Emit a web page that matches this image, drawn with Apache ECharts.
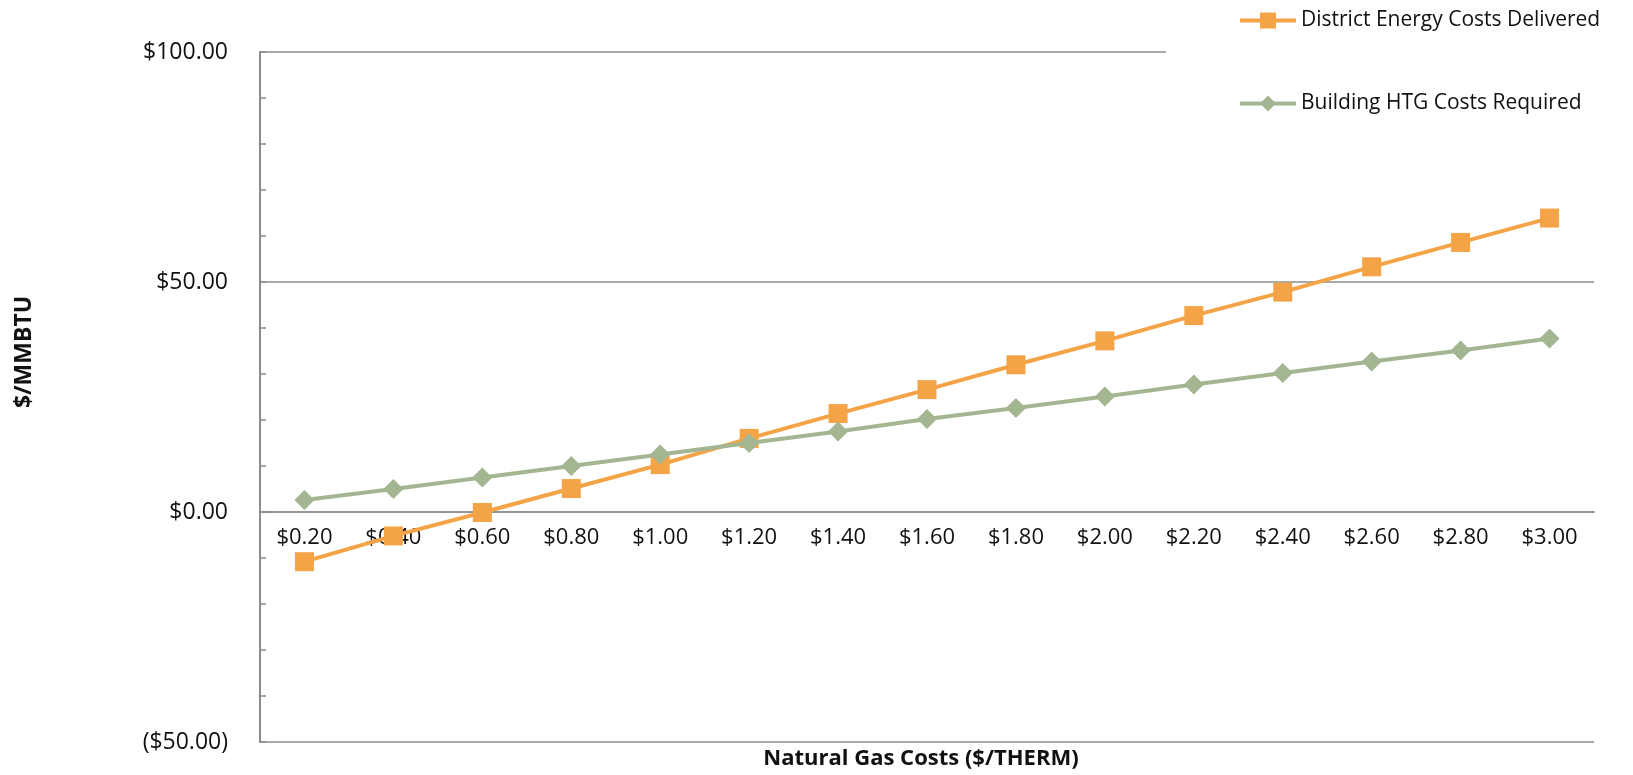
<!DOCTYPE html>
<html>
<head>
<meta charset="utf-8">
<title>District Energy vs Building Heating Costs</title>
<script src="https://cdn.jsdelivr.net/npm/echarts@6/dist/echarts.min.js"></script>
<style>
  html, body { margin: 0; padding: 0; background: #ffffff; }
  #chart { width: 1633px; height: 775px; }
</style>
</head>
<body>
<div id="chart"></div>
<script>
// Natural gas price points ($/therm)
const gasPrices = ['$0.20', '$0.40', '$0.60', '$0.80', '$1.00', '$1.20', '$1.40', '$1.60',
                   '$1.80', '$2.00', '$2.20', '$2.40', '$2.60', '$2.80', '$3.00'];

// Delivered district energy cost ($/MMBTU)
const districtEnergy = [-10.8, -5.2, -0.1, 5.1, 10.3, 16.0, 21.4, 26.6, 32.0, 37.2, 42.7, 47.8, 53.3, 58.6, 63.9];

// Required building heating cost ($/MMBTU)
const buildingHtg = [2.6, 5.0, 7.5, 10.0, 12.5, 15.0, 17.5, 20.2, 22.6, 25.1, 27.7, 30.2, 32.7, 35.1, 37.7];

// Value axis range and steps
const yMin = -50;
const yMax = 100;
const yLabelStep = 50;
const yMinorStep = 10;

const seriesNames = ['District Energy Costs Delivered', 'Building HTG Costs Required'];

const FONT = '"Open Sans", "Noto Sans", sans-serif';
const AXIS_GREY = '#8c8c8c';
const ORANGE = '#F4A446';
const GREEN = '#A3B591';

// Plot box in pixels
const GRID_TOP = 52;
const GRID_BOTTOM = 33;
const CHART_H = 775;

function money(v) {
  return v < 0 ? '($' + Math.abs(v).toFixed(2) + ')' : '$' + v.toFixed(2);
}

// Lift the category axis from the bottom edge up to the zero line
const plotH = CHART_H - GRID_TOP - GRID_BOTTOM;
const zeroLift = -plotH * (0 - yMin) / (yMax - yMin);

const chart = echarts.init(document.getElementById('chart'), null, { renderer: 'canvas' });

chart.setOption({
  backgroundColor: '#ffffff',
  animation: false,
  textStyle: { fontFamily: FONT },
  grid: { left: 260, right: 39, top: GRID_TOP, bottom: GRID_BOTTOM, containLabel: false },
  legend: {
    data: seriesNames,
    orient: 'vertical',
    left: 1166,
    top: 0,
    padding: [10, 30, 12, 72],
    itemGap: 62,
    itemWidth: 56,
    itemHeight: 20,
    backgroundColor: '#ffffff',
    lineStyle: { width: 4 },
    textStyle: { fontFamily: FONT, fontSize: 21, color: '#111111' }
  },
  xAxis: {
    type: 'category',
    data: gasPrices,
    boundaryGap: true,
    position: 'bottom',
    offset: zeroLift,
    axisLine: { show: true, onZero: false, lineStyle: { color: AXIS_GREY, width: 1.5 } },
    axisTick: { show: false },
    axisLabel: { fontFamily: FONT, fontSize: 22, color: '#111111', margin: 15, interval: 0 },
    splitLine: { show: false }
  },
  yAxis: [
    {
      type: 'value',
      min: yMin,
      max: yMax,
      interval: yLabelStep,
      position: 'left',
      axisLine: { show: true, onZero: false, lineStyle: { color: AXIS_GREY, width: 2 } },
      axisTick: { show: false },
      axisLabel: {
        fontFamily: FONT, fontSize: 23, color: '#111111', margin: 32,
        formatter: money
      },
      splitLine: { show: true, lineStyle: { color: AXIS_GREY, width: 1.5 } }
    },
    {
      // minor tick marks every 10 along the value axis
      type: 'value',
      min: yMin,
      max: yMax,
      interval: yMinorStep,
      position: 'left',
      axisLine: { show: false, onZero: false },
      axisTick: { show: true, inside: true, length: 6, lineStyle: { color: AXIS_GREY, width: 1.5 } },
      axisLabel: { show: false },
      splitLine: { show: false }
    }
  ],
  graphic: [
    {
      type: 'text',
      x: 24, y: 352,
      rotation: Math.PI / 2,
      style: {
        text: '$/MMBTU',
        fontFamily: FONT, fontSize: 23, fontWeight: 'bold', fill: '#111111',
        align: 'center', verticalAlign: 'middle'
      }
    },
    {
      type: 'text',
      x: 921, y: 759,
      style: {
        text: 'Natural Gas Costs ($/THERM)',
        fontFamily: FONT, fontSize: 22, fontWeight: 'bold', fill: '#111111',
        align: 'center', verticalAlign: 'middle'
      }
    }
  ],
  series: [
    {
      name: seriesNames[0],
      type: 'line',
      data: districtEnergy,
      yAxisIndex: 0,
      symbol: 'rect',
      symbolSize: 19,
      itemStyle: { color: ORANGE },
      lineStyle: { color: ORANGE, width: 4 },
      z: 3
    },
    {
      name: seriesNames[1],
      type: 'line',
      data: buildingHtg,
      yAxisIndex: 0,
      symbol: 'diamond',
      symbolSize: [20, 20],
      itemStyle: { color: GREEN },
      lineStyle: { color: GREEN, width: 4 },
      z: 4
    }
  ]
});
</script>
</body>
</html>
